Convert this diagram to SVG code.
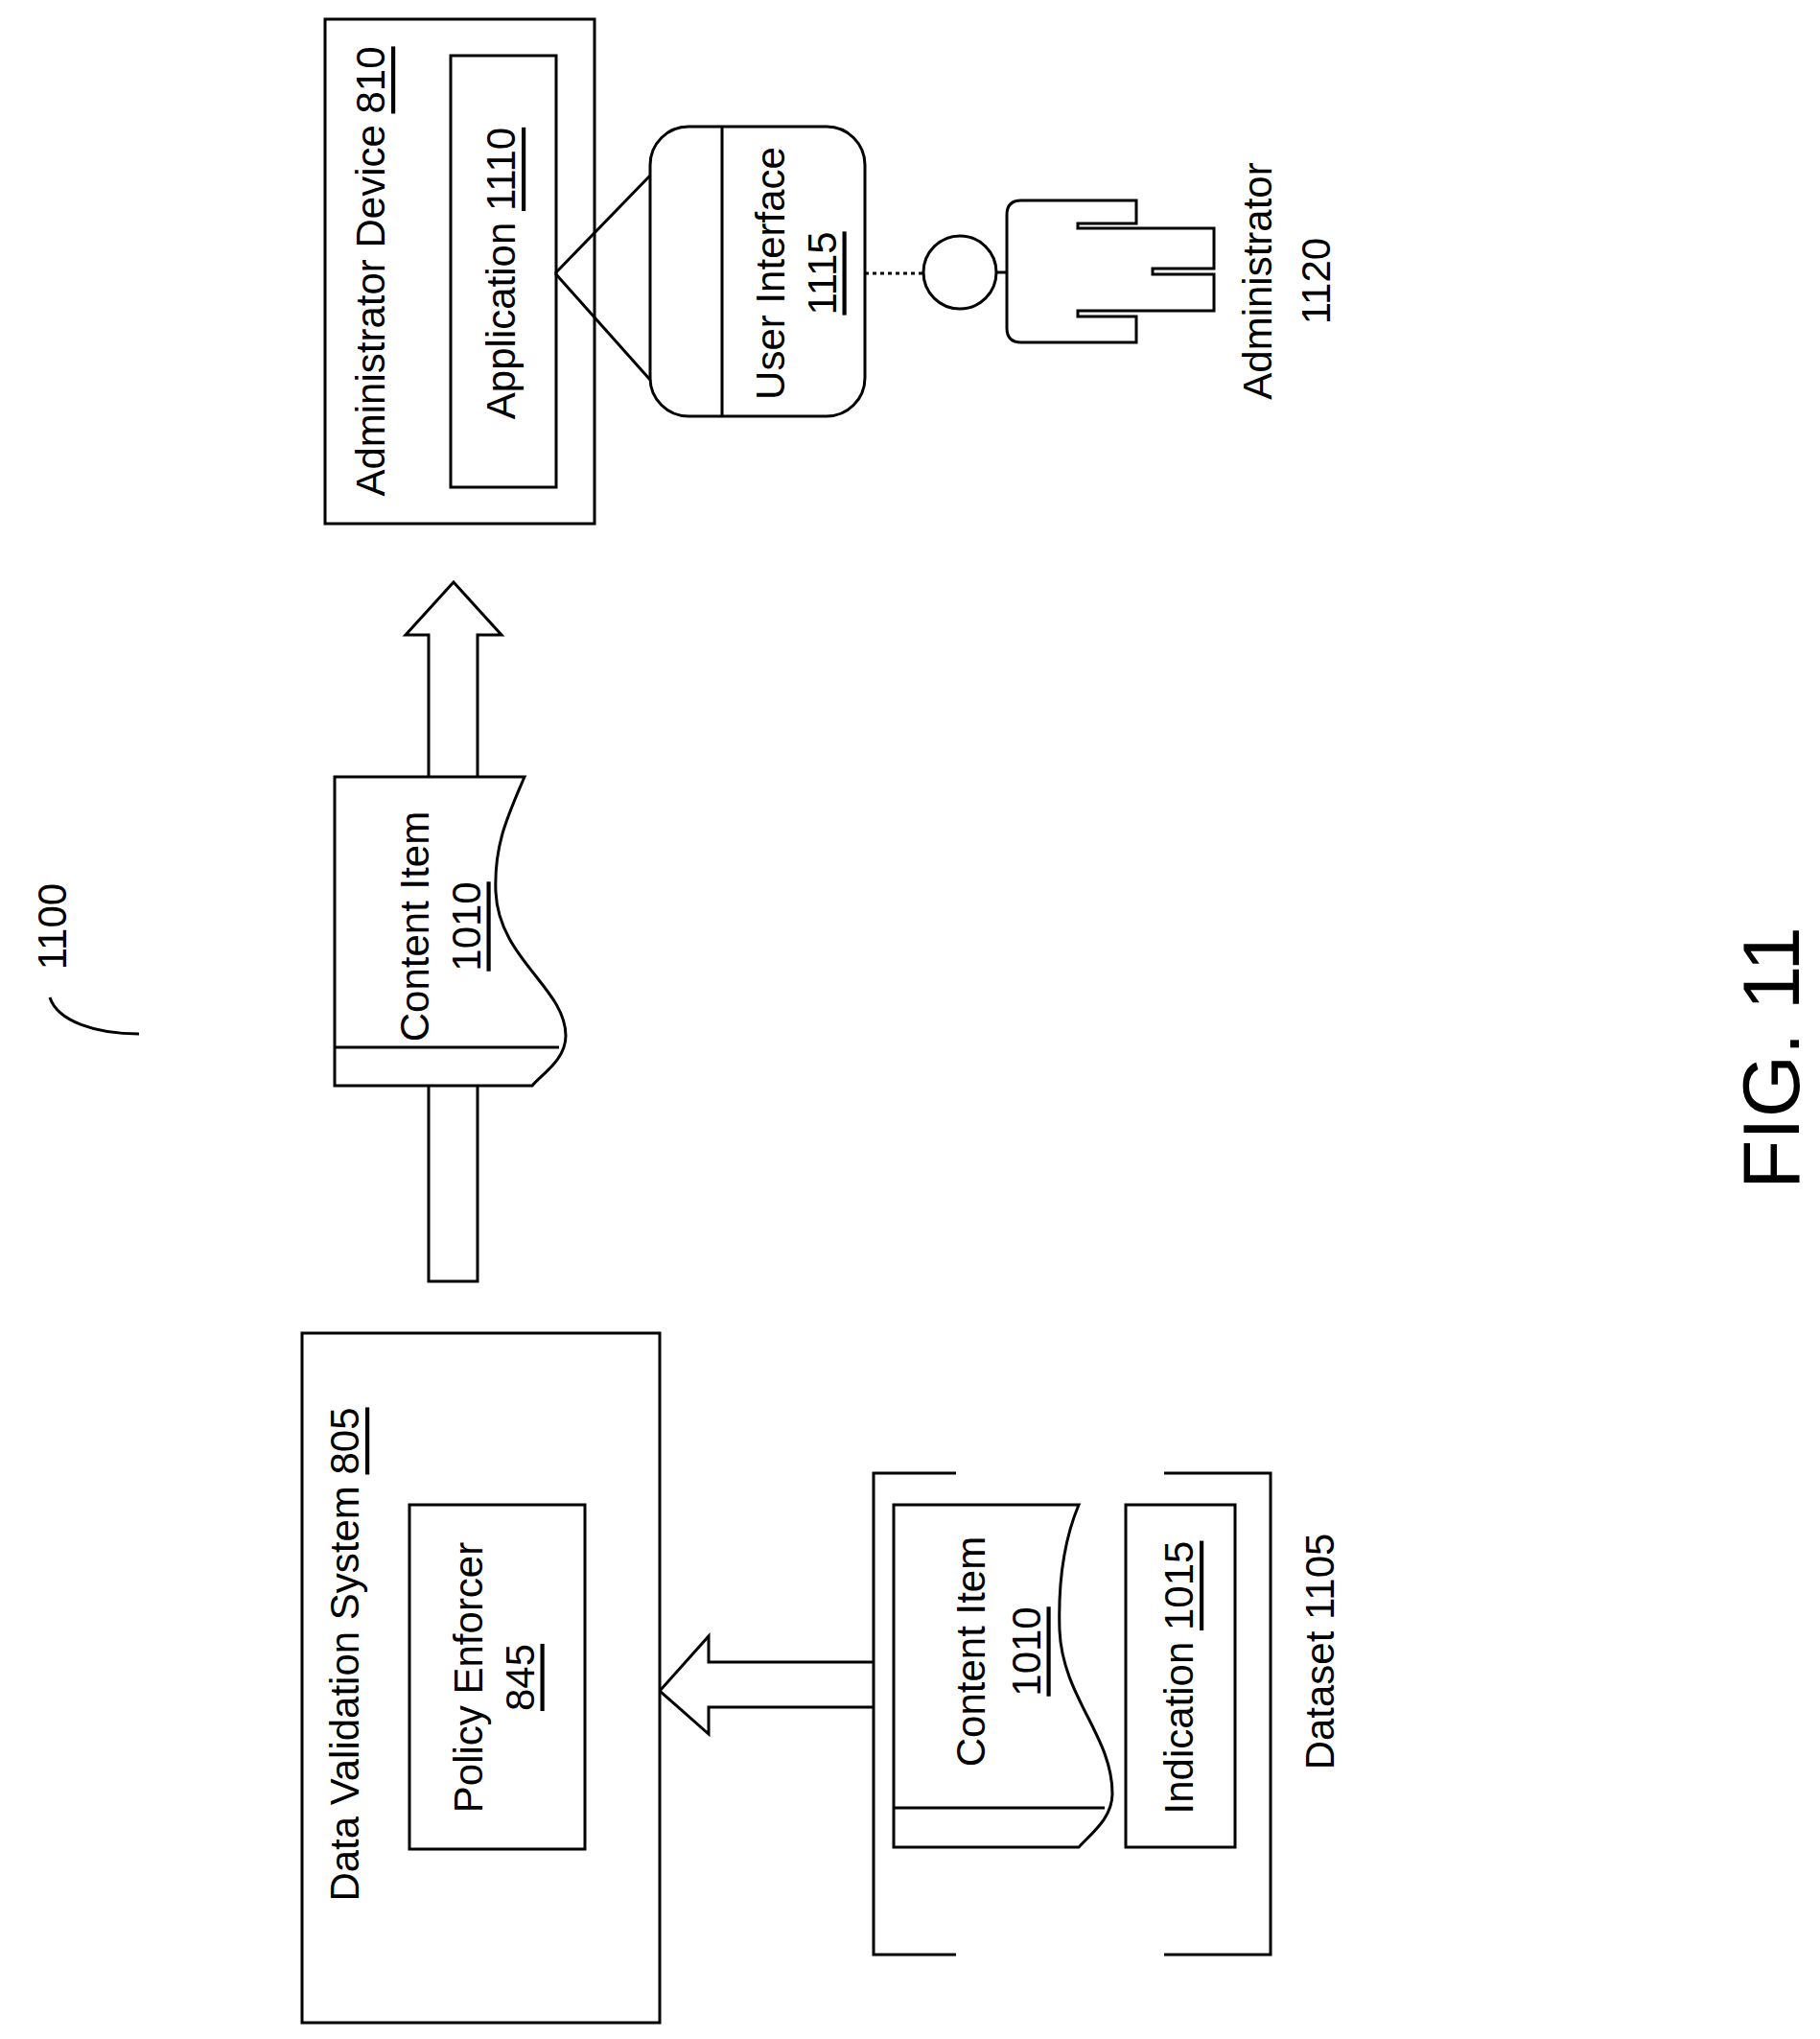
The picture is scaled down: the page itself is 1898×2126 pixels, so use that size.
<svg xmlns="http://www.w3.org/2000/svg" width="1898" height="2126" viewBox="0 0 1898 2126">
<style>
.s{fill:none;stroke:#000;stroke-width:3}
.w{fill:#fff;stroke:#000;stroke-width:3}
text{font-family:"Liberation Sans",Arial,sans-serif;font-size:42px;fill:#000;text-anchor:middle;dominant-baseline:central}
.u{text-decoration:underline}
</style>
<rect width="1898" height="2126" fill="#fff"/>
<g id="connectors">
<path class="w" d="M447,1336 V662 H423 L473,607 L523,662 H498 V1336 Z"/>
<path class="w" d="M911,1733 H739 V1706 L688,1763 L739,1808 V1780 H911"/>
</g>
<g id="admin-device">
<rect class="w" x="339" y="20" width="281" height="526"/>
<text transform="translate(386,283) rotate(-90)">Administrator Device <tspan class="u">810</tspan></text>
</g>
<g id="application">
<rect class="w" x="470" y="58" width="110" height="450"/>
<text transform="translate(522,285) rotate(-90)">Application <tspan class="u">1110</tspan></text>
</g>
<g id="user-interface">
<rect class="w" x="678" y="132" width="224" height="302" rx="40"/>
<line class="s" x1="753" y1="132" x2="753" y2="434"/>
<text transform="translate(803,285) rotate(-90)">User Interface</text>
<text transform="translate(857,285) rotate(-90)" class="u">1115</text>
</g>
<g id="ui-links">
<line class="s" x1="579" y1="285" x2="678" y2="183"/>
<line class="s" x1="579" y1="285" x2="678" y2="396"/>
<line class="s" x1="902" y1="285" x2="963" y2="285" stroke-dasharray="4,4"/>
</g>
<g id="administrator">
<circle class="w" cx="1001" cy="284" r="38"/>
<path class="w" d="M1065,209 H1185 V233 H1124 V238 H1266 V280 H1202 V286 H1266 V324 H1124 V330 H1185 V357 H1065 Q1050,357 1050,342 V224 Q1050,209 1065,209 Z"/>
<line class="s" x1="1039" y1="284" x2="1050" y2="284"/>
<text transform="translate(1311,293) rotate(-90)">Administrator</text>
<text transform="translate(1372,293) rotate(-90)">1120</text>
</g>
<g id="content-item-top">
<path class="w" d="M349,810 H547 C530,850 515,880 517,930 C520,1000 590,1030 590,1080 C590,1105 565,1120 555,1132 H349 Z"/>
<line class="s" x1="349" y1="1092" x2="583" y2="1092"/>
<text transform="translate(432,966) rotate(-90)">Content Item</text>
<text transform="translate(486,966) rotate(-90)" class="u">1010</text>
</g>
<g id="label-1100">
<text transform="translate(54,966) rotate(-90)">1100</text>
<path class="s" d="M52,1040 C60,1065 100,1078 145,1078"/>
</g>
<g id="data-validation">
<rect class="w" x="315" y="1390" width="373" height="719"/>
<text transform="translate(359,1725) rotate(-90)">Data Validation System <tspan class="u">805</tspan></text>
</g>
<g id="policy-enforcer">
<rect class="w" x="427" y="1569" width="183" height="359"/>
<text transform="translate(488,1749) rotate(-90)">Policy Enforcer</text>
<text transform="translate(542,1749) rotate(-90)" class="u">845</text>
</g>
<g id="dataset">
<path class="s" d="M997,1536 H911 V2038 H997"/>
<path class="s" d="M1214,1536 H1325 V2038 H1214"/>
<text transform="translate(1376,1722) rotate(-90)">Dataset 1105</text>
</g>
<g id="content-item-bottom">
<path class="w" d="M932,1569 H1125 C1112,1600 1103,1640 1105,1700 C1108,1770 1160,1810 1160,1870 C1160,1895 1140,1910 1125,1926 H932 Z"/>
<line class="s" x1="932" y1="1885" x2="1152" y2="1885"/>
<text transform="translate(1012,1722) rotate(-90)">Content Item</text>
<text transform="translate(1070,1722) rotate(-90)" class="u">1010</text>
</g>
<g id="indication">
<rect class="w" x="1174" y="1569" width="114" height="357"/>
<text transform="translate(1229,1749) rotate(-90)">Indication <tspan class="u">1015</tspan></text>
</g>
<text transform="translate(1847,1103) rotate(-90)" style="font-size:84px">FIG. 11</text>
</svg>
